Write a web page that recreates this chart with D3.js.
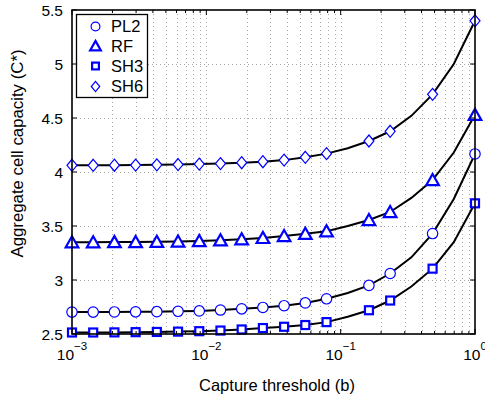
<!DOCTYPE html>
<html><head><meta charset="utf-8">
<script src="https://cdn.jsdelivr.net/npm/d3@7"></script>
<style>body{margin:0;background:#fff;} svg{display:block;font-family:"Liberation Sans",Arial,sans-serif;}</style>
</head><body>
<svg id="c" width="485" height="399"></svg>
<script>
// ---- data ----
const thresholds = [0.001, 0.001438, 0.002069, 0.002976, 0.004281, 0.006158, 0.008859, 0.012743, 0.01833, 0.026367,
                    0.037927, 0.054556, 0.078476, 0.112884, 0.162378, 0.233572, 0.335982, 0.483293, 0.695193, 1.0];
const markerIdx = [0,1,2,3,4,5,6,7,8,9,10,11,12,14,15,17,19];
const seriesNames = ["PL2", "RF", "SH3", "SH6"];
const PL2 = [2.703, 2.703, 2.704, 2.705, 2.707, 2.710, 2.714, 2.722, 2.733, 2.746, 2.762, 2.788, 2.826, 2.88, 2.95, 3.06, 3.21, 3.43, 3.75, 4.167];
const RF  = [3.350, 3.350, 3.351, 3.352, 3.354, 3.357, 3.361, 3.368, 3.378, 3.39, 3.408, 3.428, 3.452, 3.50, 3.556, 3.63, 3.76, 3.926, 4.18, 4.53];
const SH3 = [2.514, 2.514, 2.515, 2.517, 2.519, 2.522, 2.526, 2.532, 2.542, 2.555, 2.567, 2.583, 2.61, 2.66, 2.72, 2.81, 2.94, 3.105, 3.35, 3.71];
const SH6 = [4.062, 4.062, 4.063, 4.064, 4.066, 4.069, 4.073, 4.078, 4.086, 4.095, 4.11, 4.136, 4.17, 4.22, 4.287, 4.377, 4.52, 4.719, 5.0, 5.40];
const yTicks = [2.5, 3, 3.5, 4, 4.5, 5, 5.5];
const xMajor = [0.001, 0.01, 0.1, 1];
const xMajorExp = ["-3", "-2", "-1", "0"];
const xLabel = "Capture threshold (b)";
const yLabel = "Aggregate cell capacity (C*)";

// ---- layout ----
const L = 72, R = 475, T = 10, B = 334;
const svg = d3.select("#c");
const x = d3.scaleLog().domain([0.001, 1]).range([L, R]);
const y = d3.scaleLinear().domain([2.5, 5.5]).range([B, T]);

// minor x ticks
const xAll = [];
[0.001, 0.01, 0.1].forEach(d => { for (let m = 1; m <= 9; m++) xAll.push(d * m); });
xAll.push(1);
const xMinor = xAll.filter(v => !xMajor.some(m => Math.abs(m - v) < 1e-12));

// grid
const grid = svg.append("g").attr("stroke", "#a8a8a8").attr("stroke-width", 1).attr("stroke-dasharray", "1,3");
grid.selectAll("line.gx").data(xAll.slice(1, -1)).enter().append("line")
  .attr("x1", d => Math.round(x(d)) + 0.5).attr("x2", d => Math.round(x(d)) + 0.5).attr("y1", T).attr("y2", B);
grid.selectAll("line.gy").data(yTicks.slice(1, -1)).enter().append("line")
  .attr("x1", L).attr("x2", R).attr("y1", d => Math.round(y(d)) + 0.5).attr("y2", d => Math.round(y(d)) + 0.5);

// series lines
const line = d3.line().x((d, i) => x(thresholds[i])).y(d => y(d));
const allSeries = [PL2, RF, SH3, SH6];
const blue = "#0000ff";
function marker(g, type, cx, cy, scale) {
  const s = scale || 1;
  if (type === 0) {
    g.append("circle").attr("cx", cx).attr("cy", cy).attr("r", 5.2 * s).attr("fill", "#fff").attr("stroke", blue).attr("stroke-width", 1.2);
  } else if (type === 1) {
    const w = 6.3 * s, h = 6 * s;
    g.append("path").attr("d", `M${cx},${cy - h}L${cx + w},${cy + h * 0.85}L${cx - w},${cy + h * 0.85}Z`)
      .attr("fill", "#fff").attr("stroke", blue).attr("stroke-width", 2.2);
  } else if (type === 2) {
    const h = 4 * s;
    g.append("rect").attr("x", cx - h).attr("y", cy - h).attr("width", 2 * h).attr("height", 2 * h)
      .attr("fill", "#fff").attr("stroke", blue).attr("stroke-width", 2.2);
  } else {
    const w = 5 * s, h = 6 * s;
    g.append("path").attr("d", `M${cx},${cy - h}L${cx + w},${cy}L${cx},${cy + h}L${cx - w},${cy}Z`)
      .attr("fill", "#fff").attr("stroke", blue).attr("stroke-width", 1.2);
  }
}
allSeries.forEach((vals, si) => {
  const g = svg.append("g");
  g.append("path").datum(vals).attr("d", line).attr("fill", "none").attr("stroke", "#000").attr("stroke-width", 2);
  markerIdx.forEach(i => marker(g, si, x(thresholds[i]), y(vals[i])));
});

// axes box & ticks
const ax = svg.append("g").attr("stroke", "#000");
ax.append("rect").attr("x", L).attr("y", T).attr("width", R - L).attr("height", B - T).attr("fill", "none").attr("stroke-width", 1.6);
xMajor.forEach(v => {
  const px = x(v);
  ax.append("line").attr("x1", px).attr("x2", px).attr("y1", B).attr("y2", B - 5).attr("stroke-width", 1);
  ax.append("line").attr("x1", px).attr("x2", px).attr("y1", T).attr("y2", T + 5).attr("stroke-width", 1);
});
xMinor.forEach(v => {
  const px = x(v);
  ax.append("line").attr("x1", px).attr("x2", px).attr("y1", B).attr("y2", B - 3).attr("stroke-width", 1);
  ax.append("line").attr("x1", px).attr("x2", px).attr("y1", T).attr("y2", T + 3).attr("stroke-width", 1);
});
yTicks.forEach(v => {
  const py = y(v);
  ax.append("line").attr("x1", L).attr("x2", L + 5).attr("y1", py).attr("y2", py).attr("stroke-width", 1);
  ax.append("line").attr("x1", R).attr("x2", R - 5).attr("y1", py).attr("y2", py).attr("stroke-width", 1);
});

// tick labels
const fs = 15.5;
svg.selectAll("text.yt").data(yTicks).enter().append("text")
  .attr("x", L - 9).attr("y", d => y(d) + 5.5).attr("text-anchor", "end").attr("font-size", fs).text(d => d3.format("")(d));
xMajor.forEach((v, i) => {
  const t = svg.append("text").attr("x", x(v)).attr("y", 360).attr("text-anchor", "middle").attr("font-size", fs);
  t.append("tspan").text("10");
  t.append("tspan").attr("dy", -10).attr("font-size", 11.5).text(xMajorExp[i].replace("-", "\u2212"));
});

// axis labels
svg.append("text").attr("x", 277).attr("y", 391).attr("text-anchor", "middle").attr("font-size", 16.5).text(xLabel);
svg.append("text").attr("transform", `translate(23,153.5) rotate(-90)`).attr("text-anchor", "middle").attr("font-size", 16.8).text(yLabel);

// legend
const lg = svg.append("g");
lg.append("rect").attr("x", 76.5).attr("y", 14.5).attr("width", 71).attr("height", 83).attr("fill", "#fff").attr("stroke", "#000").attr("stroke-width", 1.3);
const legY = [26.5, 46, 66, 86.5];
seriesNames.forEach((n, i) => {
  marker(lg, i, 95.5, legY[i], 0.85);
  lg.append("text").attr("x", 111).attr("y", legY[i] + 5.8).attr("font-size", 16.5).text(n);
});
</script>
</body></html>
